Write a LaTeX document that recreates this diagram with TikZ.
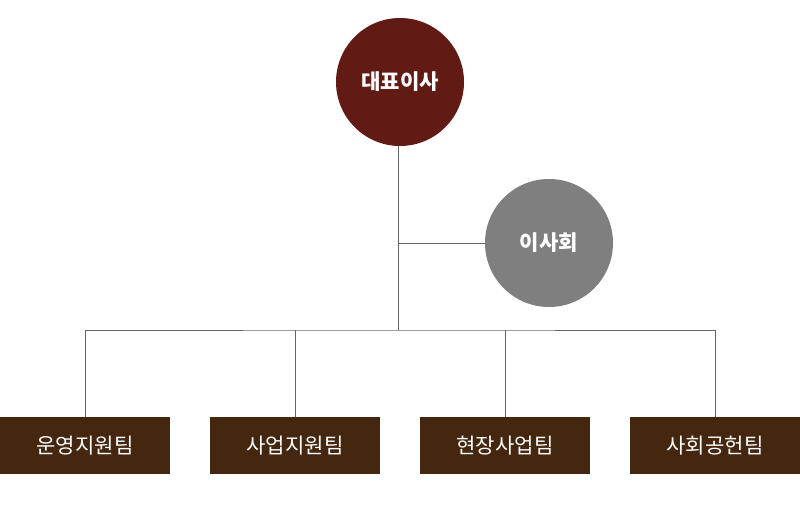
\documentclass[tikz,border=0pt]{standalone}
\usepackage{fontspec}
\setmainfont{Noto Sans CJK KR}
\definecolor{ceo}{HTML}{621A15}
\definecolor{board}{HTML}{7F7F7F}
\definecolor{team}{HTML}{45260F}
\begin{document}
\begin{tikzpicture}[circ/.style = {circle, minimum size=2.56cm, inner sep=0, text=white, font=\bfseries\large}, teambox/.style = {rectangle, fill=team, minimum width=3.4cm, minimum height=1.14cm, text=white, font=\large}, line/.style = {draw=black!60, line width=0.5pt}]
  \useasboundingbox (0, 0) rectangle (16, -10.16);
  \node[circ, fill=ceo] at (8, -1.64) (ceo) {대표이사};
  \node[circ, fill=board] at (10.98, -4.86) (board) {이사회};
  \node[teambox] at (1.7, -8.91) (team1) {운영지원팀};
  \node[teambox] at (5.9, -8.91) (team2) {사업지원팀};
  \node[teambox] at (10.1, -8.91) (team3) {현장사업팀};
  \node[teambox] at (14.3, -8.91) (team4) {사회공헌팀};
  \coordinate (hub) at (7.96, -6.6);
  \draw[line] (ceo.south -| hub) -- (hub);
  \draw[line] (board.west) -- (board.west -| hub);
  \draw[line] (team1.north) |- (hub) -| (team4.north);
  \draw[line] (team2.north) -- (team2.north |- hub);
  \draw[line] (team3.north) -- (team3.north |- hub);
\end{tikzpicture}
\end{document}
